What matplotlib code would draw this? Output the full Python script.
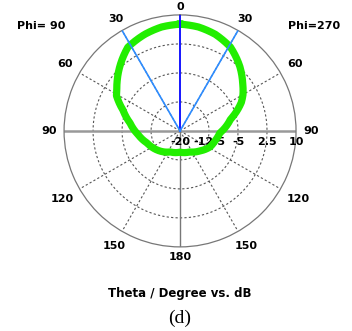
import numpy as np
import matplotlib
matplotlib.use('Agg')
import matplotlib.pyplot as plt

# Gain pattern (dB), theta in degrees from the top, right half (Phi=270)
right_theta = [0, 10, 20, 31, 43, 53, 60, 65, 70, 77, 93, 106, 118, 135, 155, 180]
right_db = [7.6, 7.3, 6.6, 5.3, 2.7, 0.3, -1.2, -2.5, -4.2, -6.6, -9.7, -10.6, -11.2, -12.7, -14.0, -14.5]
# left half (Phi=90), theta from the top going down
left_theta = [10, 20, 32, 51, 57, 61, 70, 81, 95, 110, 130, 155]
left_db = [7.3, 6.6, 5.5, 0.9, -0.5, -1.2, -4.3, -6.9, -9.1, -10.9, -12.3, -14.0]

r_ticks = [-20, -12.5, -5, 2.5, 10]
r_tick_labels = ['-20', '-12.5', '-5', '2.5', '10']
angle_ticks = [0, 30, 60, 90, 120, 150, 180]
# where the angle labels sit (in dB units, outside the plot circle)
angle_label_r = [12.1, 13.4, 14.4, 13.9, 15.3, 14.3, 12.6]

R_MIN, R_MAX = -20, 10

fig = plt.figure(figsize=(3.52, 3.31), dpi=100)
ax = fig.add_axes([0.182, 0.254, 0.659, 0.701], projection='polar')
ax.set_theta_zero_location('N')
ax.set_theta_direction(-1)
ax.set_ylim(R_MIN, R_MAX)
ax.grid(False)
ax.set_xticks([])
ax.set_yticks([])
ax.spines['polar'].set_color('#777777')
ax.spines['polar'].set_linewidth(0.9)

full = np.linspace(0, 2 * np.pi, 200)
# dashed rings
for r in r_ticks[1:-1]:
    ax.plot(full, [r] * len(full), color='#555555', lw=0.8, ls=(0, (2, 2)))
# dashed spokes
for a in [30, 60, 120, 150]:
    for s in (a, 360 - a):
        ax.plot([np.radians(s)] * 2, [R_MIN, R_MAX], color='#555555', lw=0.8, ls=(0, (2, 2)))
# solid axes
ax.plot([np.radians(90)] * 2, [R_MIN, R_MAX], color='#999999', lw=1.8)
ax.plot([np.radians(270)] * 2, [R_MIN, R_MAX], color='#999999', lw=1.8)
ax.plot([np.radians(180)] * 2, [R_MIN, R_MAX], color='#777777', lw=1.0)

bold = dict(fontsize=8, fontweight='bold', family='DejaVu Sans')
# radial labels (under the curve)
for r, lab in zip(r_ticks, r_tick_labels):
    ax.annotate(lab, (np.radians(90), r), xytext=(0, -8), textcoords='offset points',
                ha='center', va='center', annotation_clip=False, zorder=3, **bold)

# blue beam lines
ax.plot([0, 0], [R_MIN, R_MAX], color='#1515ff', lw=1.4, zorder=5)
ax.plot([np.radians(30)] * 2, [R_MIN, R_MAX], color='#2d8cff', lw=1.2, zorder=5)
ax.plot([np.radians(330)] * 2, [R_MIN, R_MAX], color='#2d8cff', lw=1.2, zorder=5)

# pattern curve
th = right_theta + [360 - t for t in reversed(left_theta)] + [360]
db = right_db + list(reversed(left_db)) + [right_db[0]]
line, = ax.plot(np.radians(th), db, color='#22ee00', lw=5.2, zorder=4)
line.get_path()._interpolation_steps = 40

# angle labels
for a, rr in zip(angle_ticks, angle_label_r):
    sides = [a] if a in (0, 180) else [a, 360 - a]
    for s in sides:
        ax.text(np.radians(s), rr, str(a), ha='center', va='center', clip_on=False, **bold)

fig.text(41.5 / 352, 1 - 26 / 331, 'Phi= 90', ha='center', va='center', **bold)
fig.text(314 / 352, 1 - 26 / 331, 'Phi=270', ha='center', va='center', **bold)
fig.text(180 / 352, 1 - 293 / 331, 'Theta / Degree vs. dB', ha='center', va='center',
         fontsize=8.5, fontweight='bold', family='DejaVu Sans')
fig.text(180 / 352, 1 - 318 / 331, '(d)', ha='center', va='center', fontsize=14,
         family='Liberation Serif')

fig.savefig('out.png', dpi=100)
